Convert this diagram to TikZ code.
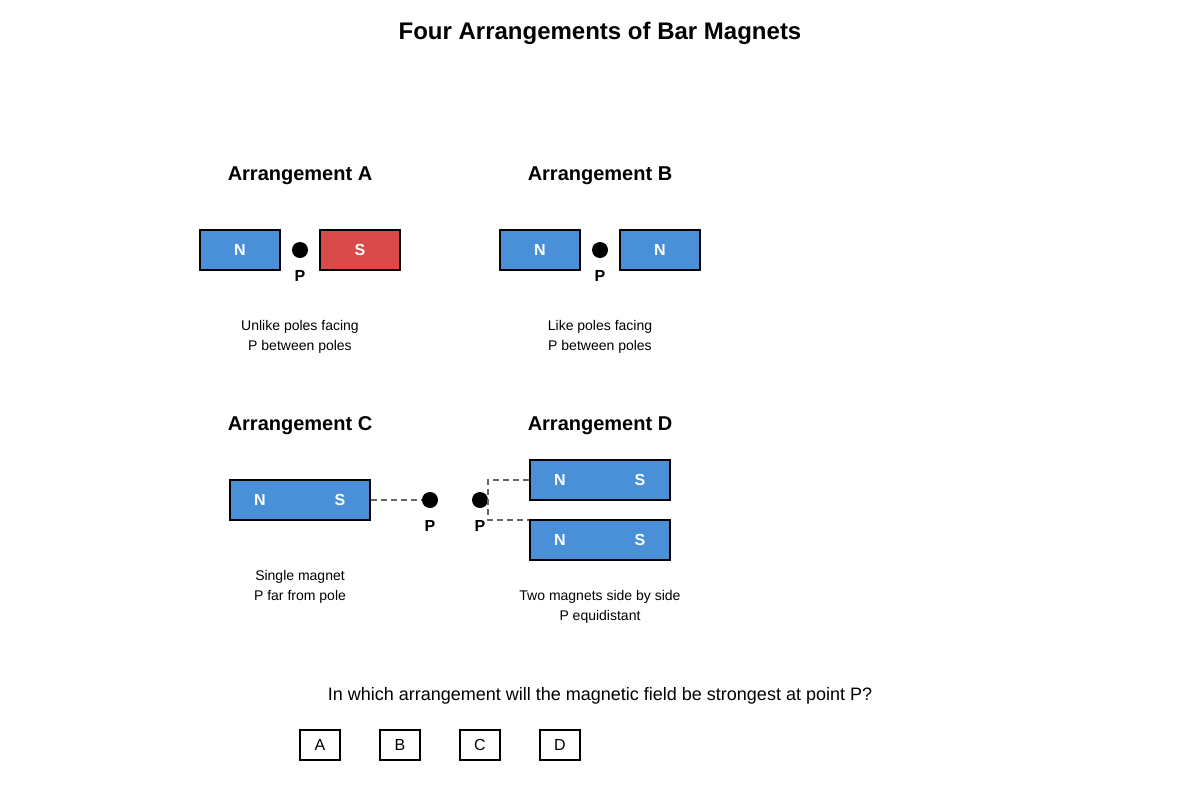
\documentclass[tikz,border=0pt]{standalone}
\usepackage{fontspec}
\setmainfont{Liberation Sans}
\definecolor{magblue}{HTML}{4A90D9}
\definecolor{magred}{HTML}{D94A4A}
\definecolor{dashgray}{HTML}{666666}
\begin{document}
\begin{tikzpicture}[x=0.75pt,y=-0.75pt,
  magnet/.style={draw=black,line width=1.5pt,fill=magblue,minimum width=60pt,minimum height=30pt,inner sep=0pt},
  longmag/.style={magnet,minimum width=105pt},
  pole/.style={text=white,font=\fontsize{12}{14}\selectfont\bfseries},
  pt/.style={circle,fill=black,minimum size=12pt,inner sep=0pt},
  plabel/.style={font=\fontsize{12}{14}\selectfont\bfseries},
  heading/.style={font=\fontsize{15}{18}\selectfont\bfseries},
  caption/.style={font=\fontsize{10.5}{15}\selectfont,align=center},
  answer/.style={draw=black,line width=1.5pt,minimum width=30pt,minimum height=22.5pt,inner sep=0pt,font=\fontsize{12}{14}\selectfont},
  guide/.style={draw=dashgray,line width=1.1pt,dash pattern=on 4.5pt off 3pt}]
\useasboundingbox (0,0) rectangle (1200,800);
\node[font=\fontsize{18}{22}\selectfont\bfseries] (title) at (600,33) {Four Arrangements of Bar Magnets};

% Arrangement A
\node[heading] (hA) at (300,175.5) {Arrangement A};
\node[magnet] (aN) at (240,250) {};
\node[pole] at (aN) {N};
\node[magnet,fill=magred] (aS) at (360,250) {};
\node[pole] at (aS) {S};
\node[pt] (aP) at (300,250) {};
\node[plabel] (aPl) at (300,276) {P};
\node[caption] (capA) at (300,337) {Unlike poles facing\\P between poles};

% Arrangement B
\node[heading] (hB) at (600,175.5) {Arrangement B};
\node[magnet] (bN1) at (540,250) {};
\node[pole] at (bN1) {N};
\node[magnet] (bN2) at (660,250) {};
\node[pole] at (bN2) {N};
\node[pt] (bP) at (600,250) {};
\node[plabel] (bPl) at (600,276) {P};
\node[caption] (capB) at (600,337) {Like poles facing\\P between poles};

% Arrangement C
\node[heading] (hC) at (300,425.5) {Arrangement C};
\node[longmag] (cM) at (300,500) {};
\node[pole] (cN) at (260,500) {N};
\node[pole] (cS) at (340,500) {S};
\node[pt] (cP) at (430,500) {};
\node[plabel] (cPl) at (430,526) {P};
\draw[guide] (cM.east) -- (cP.west);
\node[caption] (capC) at (300,587) {Single magnet\\P far from pole};

% Arrangement D
\node[heading] (hD) at (600,425.5) {Arrangement D};
\node[longmag] (dM1) at (600,480) {};
\node[pole] at (560,480) {N};
\node[pole] at (640,480) {S};
\node[longmag] (dM2) at (600,540) {};
\node[pole] at (560,540) {N};
\node[pole] at (640,540) {S};
\node[pt] (dP) at (480,500) {};
\node[plabel] (dPl) at (480,526) {P};
\coordinate (dk1) at (488,480);
\coordinate (dk2) at (488,520);
\draw[guide] (dM1.west) -- (dk1) -- (dk2) -- (dM2.west |- dk2);
\node[caption] (capD) at (600,607) {Two magnets side by side\\P equidistant};

% Question
\node[font=\fontsize{13.5}{16}\selectfont] (q) at (600,696) {In which arrangement will the magnetic field be strongest at point P?};
\node[answer] (ansA) at (320,745) {A};
\node[answer] (ansB) at (400,745) {B};
\node[answer] (ansC) at (480,745) {C};
\node[answer] (ansD) at (560,745) {D};
\end{tikzpicture}
\end{document}
